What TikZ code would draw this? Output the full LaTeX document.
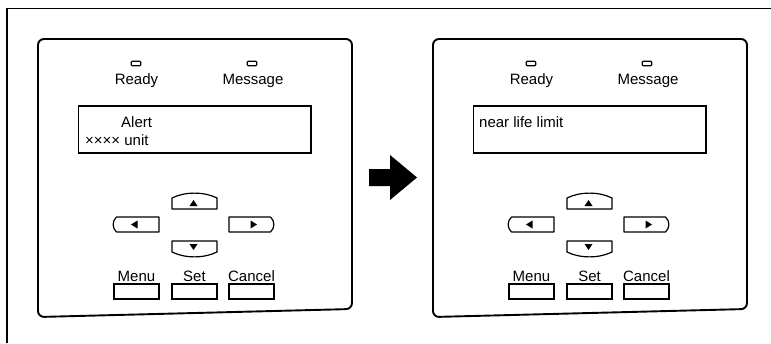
\documentclass[tikz,border=0pt]{standalone}
\usepackage{fontspec}
\setmainfont{Liberation Sans}
\tikzset{
  frameline/.style={line width=1.9pt},
  panelframe/.style={line width=1.9pt, rounded corners=6pt},
  led/.style={draw, line width=1.1pt, rounded corners=1pt, minimum width=9.5pt, minimum height=4.5pt, inner sep=0pt},
  lbl/.style={font=\fontsize{15}{17}\selectfont, inner sep=0pt, anchor=base},
  lcdbox/.style={draw, line width=1.2pt},
  keyshape/.style={draw, line width=1.2pt, line join=round},
  btn/.style={draw, line width=1.2pt, minimum width=45pt, minimum height=15pt, inner sep=0pt},
  tri/.style={fill=black},
  bigarrow/.style={fill=black},
}
\newcommand{\drawpanel}[3]{%
  % #1 prefix, #2 xshift, #3 display text
  \begin{scope}[xshift=#2pt]
    \draw[panelframe] (38,39) -- (352,39) -- (352,309) -- (38,317) -- cycle;
    \node[led] (#1ledR) at (136,63.5) {};
    \node[led] (#1ledM) at (252,63.5) {};
    \node[lbl] (#1ready) at (136.5,84) {Ready};
    \node[lbl] (#1msg) at (253,84) {Message};
    \draw[lcdbox] (78.5,106) rectangle (311,153);
    \coordinate (#1lcd) at (78.5,106);
    #3
    % up key
    \draw[keyshape] (172,209) -- (172,198) .. controls (185,191.5) and (204,191.5) .. (217,198) -- (217,209) -- cycle;
    \fill[tri] (189.5,206) -- (197.5,206) -- (193.5,200) -- cycle;
    % left key
    \draw[keyshape] (159,217) -- (116.5,217) .. controls (112,221) and (112,228) .. (116.5,232) -- (159,232) -- cycle;
    \fill[tri] (131,224.5) -- (137.5,220.5) -- (137.5,228.5) -- cycle;
    % right key
    \draw[keyshape] (229,217) -- (270.5,217) .. controls (275,221) and (275,228) .. (270.5,232) -- (229,232) -- cycle;
    \fill[tri] (257,224.5) -- (250.5,220.5) -- (250.5,228.5) -- cycle;
    % down key
    \draw[keyshape] (172,241) -- (217,241) -- (217,252) .. controls (204,258.5) and (185,258.5) .. (172,252) -- cycle;
    \fill[tri] (189.5,244) -- (197.5,244) -- (193.5,250) -- cycle;
    % buttons
    \node[btn] (#1menu) at (136.5,291.5) {};
    \node[btn] (#1set) at (194.5,291.5) {};
    \node[btn] (#1cancel) at (251.5,291.5) {};
    \node[lbl] at (136.5,281) {Menu};
    \node[lbl] at (194.5,281) {Set};
    \node[lbl] at (251.5,281) {Cancel};
  \end{scope}
}
\begin{document}
\begin{tikzpicture}[x=1pt, y=-1pt]
  \useasboundingbox (0,0) rectangle (771,343);
  \draw[frameline] (7,343) -- (7,8.5) -- (771,8.5);
  \drawpanel{a}{0}{%
    \node[lbl, anchor=base west] (aline1) at (121,127) {Alert};
    \node[lbl, anchor=base west] (aline2) at (85,145) {×××× unit};
  }
  \drawpanel{b}{395}{%
    \node[lbl, anchor=base west] (bline1) at (84,127) {near life limit};
  }
  \fill[bigarrow] (369,169) -- (390,169) -- (390,155) -- (417,177.5) -- (390,200) -- (390,186) -- (369,186) -- cycle;
\end{tikzpicture}
\end{document}
